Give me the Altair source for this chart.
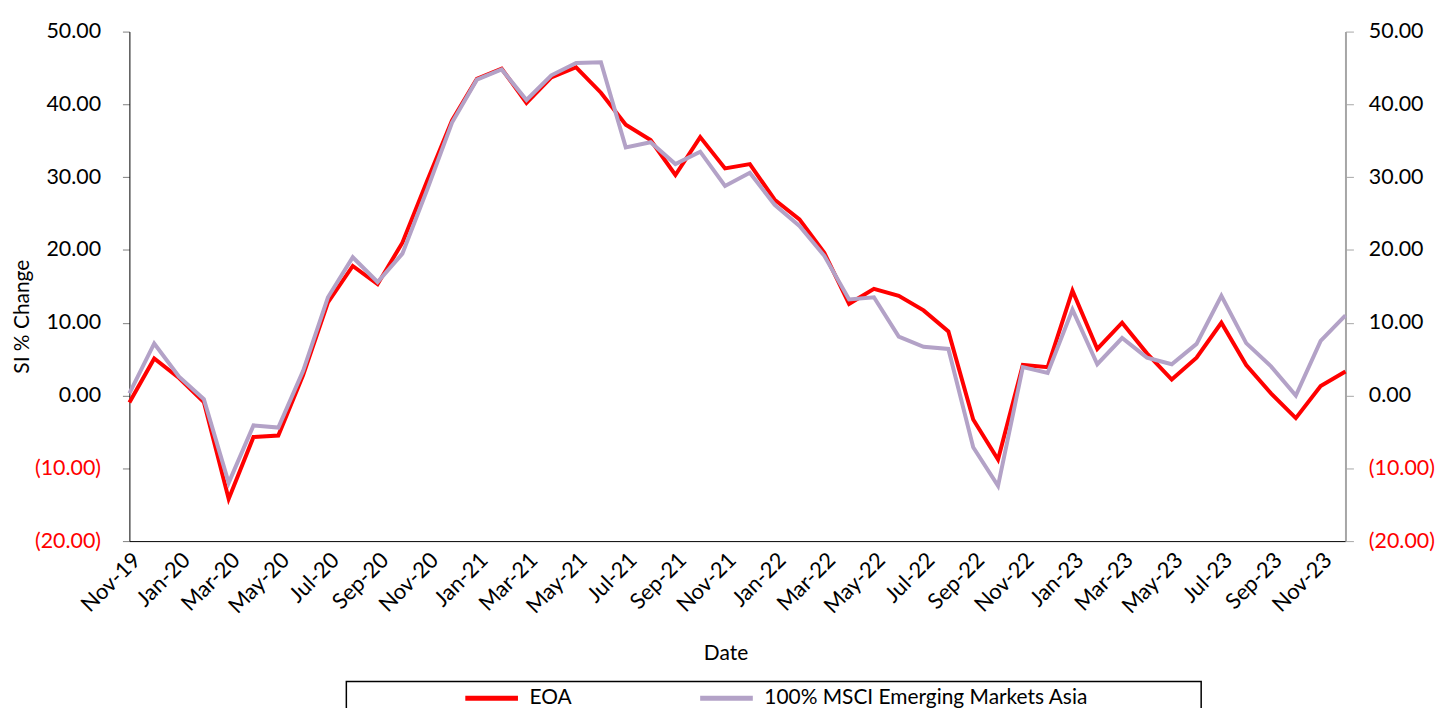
import altair as alt
import pandas as pd

months = ["Nov-19", "Dec-19", "Jan-20", "Feb-20", "Mar-20", "Apr-20", "May-20", "Jun-20",
          "Jul-20", "Aug-20", "Sep-20", "Oct-20", "Nov-20", "Dec-20", "Jan-21", "Feb-21",
          "Mar-21", "Apr-21", "May-21", "Jun-21", "Jul-21", "Aug-21", "Sep-21", "Oct-21",
          "Nov-21", "Dec-21", "Jan-22", "Feb-22", "Mar-22", "Apr-22", "May-22", "Jun-22",
          "Jul-22", "Aug-22", "Sep-22", "Oct-22", "Nov-22", "Dec-22", "Jan-23", "Feb-23",
          "Mar-23", "Apr-23", "May-23", "Jun-23", "Jul-23", "Aug-23", "Sep-23", "Oct-23",
          "Nov-23", "Dec-23"]

eoa = [-0.95, 5.1, 2.4, -0.9, -14.2, -5.7, -5.5, 2.8, 12.8, 17.8, 15.3, 21.0, 29.5, 37.8,
       43.5, 44.9, 40.2, 43.7, 45.1, 41.6, 37.2, 35.1, 30.3, 35.5, 31.2, 31.8, 26.9, 24.2,
       19.6, 12.6, 14.65, 13.7, 11.7, 8.8, -3.3, -8.8, 4.2, 3.9, 14.4, 6.4, 10.0, 5.8,
       2.2, 5.2, 10.0, 4.2, 0.3, -3.1, 1.3, 3.3]

msci = [0.3, 7.15, 2.6, -0.5, -12.0, -4.1, -4.4, 3.4, 13.5, 19.0, 15.6, 19.5, 28.3, 37.5,
        43.4, 44.8, 40.6, 44.0, 45.7, 45.8, 34.1, 34.8, 31.8, 33.5, 28.8, 30.6, 26.2, 23.3,
        19.2, 13.2, 13.5, 8.1, 6.7, 6.4, -7.1, -12.4, 3.9, 3.1, 11.8, 4.3, 7.9, 5.2,
        4.3, 7.1, 13.7, 7.2, 4.0, 0.0, 7.5, 11.0]

series_names = ["EOA", "100% MSCI Emerging Markets Asia"]
series_colors = ["#ff0000", "#b3a2c7"]
y_ticks = [-20, -10, 0, 10, 20, 30, 40, 50]

FONT = "Lato"

rows = []
for i, m in enumerate(months):
    rows.append({"idx": i, "month": m, "series": series_names[0], "value": eoa[i]})
for i, m in enumerate(months):
    rows.append({"idx": i, "month": m, "series": series_names[1], "value": msci[i]})
df = pd.DataFrame(rows)

label_array = "[" + ",".join("'" + m + "'" for m in months) + "]"

x_enc = alt.X(
    "idx:Q",
    scale=alt.Scale(domain=[0, len(months) - 1], nice=False, zero=False),
    axis=alt.Axis(
        values=list(range(0, len(months), 2)),
        labelExpr=label_array + "[datum.value]",
        labelAngle=315,
        labelAlign="right",
        labelBaseline="top",
        labelPadding=8,
        labelFontSize=22,
        labelColor="black",
        labelFont=FONT,
        labelOverlap=False,
        labelFlush=False,
        ticks=False,
        grid=False,
        domainColor="black",
        domainWidth=1,
        title="Date",
        titleFont=FONT,
        titleFontSize=21,
        titleFontWeight="normal",
        titleX=599,
        titleY=113,
        titleBaseline="middle",
        titleAlign="center",
    ),
)

yscale = alt.Scale(domain=[-20, 50], nice=False, zero=False)
label_expr = "datum.value < 0 ? '(' + format(-datum.value, '.2f') + ')' : format(datum.value, '.2f')"
label_color = {"condition": {"test": "datum.value < 0", "value": "#ff0000"}, "value": "black"}

left_axis = alt.Axis(
    orient="left",
    values=y_ticks,
    labelExpr=label_expr,
    labelColor=label_color,
    labelFont=FONT,
    labelFontSize=21.5,
    labelPadding=22,
    tickSize=7,
    tickColor="#7f7f7f",
    domainColor="black",
    grid=False,
    title="SI % Change",
    titleFont=FONT,
    titleFontSize=21,
    titleFontWeight="normal",
    titleAngle=270,
    titleX=-107,
    titleY=286,
    titleAlign="center",
    titleBaseline="middle",
)

right_axis = alt.Axis(
    orient="right",
    values=y_ticks,
    labelExpr=label_expr,
    labelColor=label_color,
    labelFont=FONT,
    labelFontSize=21.5,
    labelPadding=15,
    tickSize=8,
    tickColor="#a6a6a6",
    domainColor="#a6a6a6",
    domainWidth=2,
    grid=False,
    title=None,
)

color_enc = alt.Color(
    "series:N",
    scale=alt.Scale(domain=series_names, range=series_colors),
    legend=alt.Legend(
        orient="none",
        legendX=335,
        legendY=641,
        direction="horizontal",
        title=None,
        symbolType="stroke",
        symbolSize=2800,
        symbolStrokeWidth=5,
        labelFont=FONT,
        labelFontSize=21,
        labelColor="black",
        labelOffset=9,
        columnPadding=118,
        labelLimit=600,
        padding=0,
    ),
)

base = alt.Chart(df)

red = base.transform_filter(alt.datum.series == series_names[0]).mark_line(
    strokeWidth=4
).encode(
    x=x_enc,
    y=alt.Y("value:Q", scale=yscale, axis=left_axis),
    color=color_enc,
    order="idx:Q",
)

purple = base.transform_filter(alt.datum.series == series_names[1]).mark_line(
    strokeWidth=4
).encode(
    x=x_enc,
    y=alt.Y("value:Q", scale=yscale, axis=right_axis),
    color=color_enc,
    order="idx:Q",
)

box = alt.Chart(pd.DataFrame({"a": [0]})).mark_rect(
    fill=None, stroke="black", strokeWidth=1.5
).encode(
    x=alt.value(218), x2=alt.value(1077), y=alt.value(653), y2=alt.value(740)
)

chart = alt.layer(red, purple, box).resolve_scale(y="independent").properties(
    width=1222,
    height=512,
    autosize=alt.AutoSizeParams(type="none"),
    padding={"left": 122, "top": 22, "right": 96, "bottom": 166},
).configure(
    font=FONT,
    view=alt.ViewConfig(stroke=None),
)

chart.save("out.html", embed_options={"renderer": "svg", "actions": False})
